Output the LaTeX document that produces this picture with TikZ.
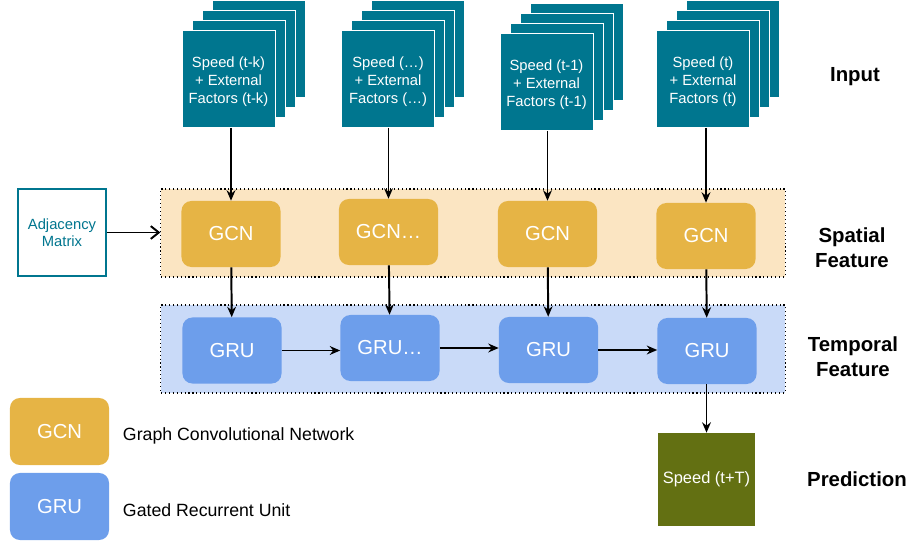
\documentclass[tikz,border=0pt]{standalone}
\usepackage{fontspec}
\setmainfont{Liberation Sans}
\usetikzlibrary{arrows.meta, positioning, calc}
\definecolor{SheetTeal}{RGB}{0,118,143}
\definecolor{GcnGold}{RGB}{230,180,69}
\definecolor{GcnBand}{RGB}{251,229,194}
\definecolor{GruBlue}{RGB}{109,158,235}
\definecolor{GruBand}{RGB}{201,218,248}
\definecolor{PredOlive}{RGB}{99,112,18}

\begin{document}
\begin{tikzpicture}[
    x=0.025cm, y=-0.025cm,
    sheet/.style={draw=white, line width=0.6pt, fill=SheetTeal, text=white, align=center,
        minimum width=2.325cm, minimum height=2.425cm, inner sep=0pt,
        font=\fontsize{10.5}{13}\selectfont},
    band/.style={draw=black, dotted, line width=0.8pt, minimum width=15.6cm, minimum height=2.2cm},
    gcn/.style={fill=GcnGold, rounded corners=7pt, text=white, minimum width=2.475cm,
        minimum height=1.65cm, font=\fontsize{14.4}{17}\selectfont},
    gru/.style={gcn, fill=GruBlue},
    tag/.style={align=center, font=\fontsize{14.5}{17.7}\selectfont\bfseries},
    flow/.style={-{Stealth[length=2.6mm, width=2.2mm]}, line width=1.4pt},
]
\useasboundingbox (0,0) rectangle (914,544);

% bandas de fondo
\node[band, fill=GcnBand] (sp) at (473,233) {};
\node[band, fill=GruBand] (tp) at (473,349) {};

% pilas de entrada
\foreach \x/\y/\n/\t in {228.5/79/1/t-k, 388/79/2/\dots, 546.5/82/3/t-1, 703/79/4/t} {
    \foreach \k in {3,2,1}
        \node[sheet] at (\x+10*\k,\y-10*\k) {};
    \node[sheet] (in\n) at (\x,\y) {};
    \node[text=white, align=center, font=\fontsize{10.5}{12.8}\selectfont]
        (lb\n) at (\x,\y+3) {Speed (\t)\\+ External\\Factors (\t)};
}

% GCN y GRU
\node[gcn] (gcn1) at (231,234) {GCN};
\node[gcn] (gcn2) at (388.5,232) {GCN…};
\node[gcn] (gcn3) at (547.5,234) {GCN};
\node[gcn] (gcn4) at (706,236) {GCN};
\node[gru] (gru1) at (232,350.5) {GRU};
\node[gru] (gru2) at (390,348) {GRU…};
\node[gru] (gru3) at (548.5,350) {GRU};
\node[gru] (gru4) at (707,351) {GRU};

\foreach \n in {1,2,3,4} {
    \draw[flow] (in\n.south -| gcn\n) -- (gcn\n.north);
    \draw[flow] (gcn\n) -- (gru\n);
}
\foreach \a/\b in {1/2,2/3,3/4}
    \draw[flow] (gru\a.east) -- (gru\b.west |- gru\a.east);

% matriz de adyacencia
\node[draw=SheetTeal, line width=1.4pt, fill=white, text=SheetTeal, align=center,
      minimum width=2.2cm, minimum height=2.175cm, font=\fontsize{10.5}{12}\selectfont]
    (adj) at (62,232.5) {Adjacency\\Matrix};
\draw[-{Straight Barb[length=2mm, width=3.2mm]}, line width=1.4pt] (adj.east) -- (sp.west |- adj.east);

% prediccion
\node[fill=PredOlive, text=white, minimum width=2.425cm, minimum height=2.325cm,
      font=\fontsize{11.7}{14}\selectfont] (pred) at (706.5,479.5) {Speed (t+T)};
\draw[flow] (gru4.south -| pred) -- (pred.north);

% leyenda
\node[gcn, minimum height=1.675cm] (keygcn) at (59.5,431.5) {GCN};
\node[gru, minimum height=1.675cm] (keygru) at (59.5,506.5) {GRU};
\node[anchor=west, font=\fontsize{12.6}{15}\selectfont] (txtgcn) at (118,436) {Graph Convolutional Network};
\node[anchor=west, font=\fontsize{12.6}{15}\selectfont] (txtgru) at (118,510) {Gated Recurrent Unit};

% etiquetas de capa
\node[tag] (lin) at (855,77) {Input};
\node[tag] (lsp) at (852,248) {Spatial\\Feature};
\node[tag] (ltp) at (853,357) {Temporal\\Feature};
\node[tag] (lpr) at (857,479) {Prediction};

\end{tikzpicture}
\end{document}
